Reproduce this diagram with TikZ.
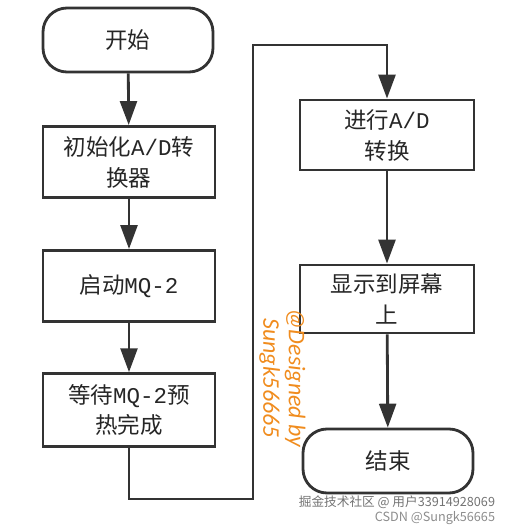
\documentclass[tikz,border=0pt]{standalone}
\usepackage{fontspec}
\setmainfont{Liberation Serif}
\newfontfamily\cjk{Noto Sans CJK SC}
\newfontfamily\mono{Liberation Mono}
\newfontfamily\sign{Carlito}
\usetikzlibrary{arrows.meta, positioning}
\definecolor{linegray}{RGB}{51,51,51}
\definecolor{signorange}{RGB}{240,140,30}

\begin{document}
\begin{tikzpicture}[
            box/.style={draw=linegray, line width=2pt, rectangle, fill=white, minimum width=4.3cm, minimum height=1.78cm, align=center, text=black!85, font=\cjk\fontsize{16}{22}\selectfont},
            term/.style={box, rounded corners=0.6cm, minimum width=4.25cm, minimum height=1.6cm},
            flow/.style={-{Triangle[length=17pt, width=12pt]}, line width=2pt, draw=linegray}]

            \useasboundingbox (0,0) rectangle (12.85,-13.15);

            \node[term] (start) at (3.2,-1.0) {开始};
            \node[box] (init) at (3.225,-4.05) {初始化{\mono A/D}转\\换器};
            \node[box] (run) at (3.225,-7.15) {启动{\mono MQ-2}};
            \node[box, minimum height=1.82cm] (wait) at (3.225,-10.25) {等待{\mono MQ-2}预\\热完成};
            \node[box, minimum width=4.35cm, minimum height=1.75cm] (convert) at (9.675,-3.375) {进行{\mono A/D}\\转换};
            \node[box, minimum width=4.35cm, minimum height=1.7cm] (show) at (9.675,-7.475) {显示到屏幕\\上};
            \node[term] (stop) at (9.7,-11.525) {结束};

            \coordinate (turnA) at (6.325,-12.475);
            \coordinate (turnB) at (6.325,-1.125);

            \draw[flow] (start) -- (init);
            \draw[flow] (init) -- (run);
            \draw[flow] (run) -- (wait);
            \draw[flow] (wait.south) |- (turnA) -- (turnB) -| (convert.north);
            \draw[flow] (convert) -- (show);
            \draw[flow] (show) -- (stop);

            % watermarks
            \node[rotate=-90, align=center, text=signorange, font=\sign\itshape\fontsize{17}{18}\selectfont] (sign) at (7.06,-9.45) {@Designed by\\Sungk56665};
            \node[text=black!55, font=\cjk\fontsize{9}{10}\selectfont, anchor=east] (site) at (12.5,-12.55) {掘金技术社区 @ 用户33914928069};
            \node[text=black!45, font=\cjk\fontsize{9}{10}\selectfont, anchor=east] (csdn) at (12.5,-12.95) {CSDN @Sungk56665};
        \end{tikzpicture}
\end{document}
